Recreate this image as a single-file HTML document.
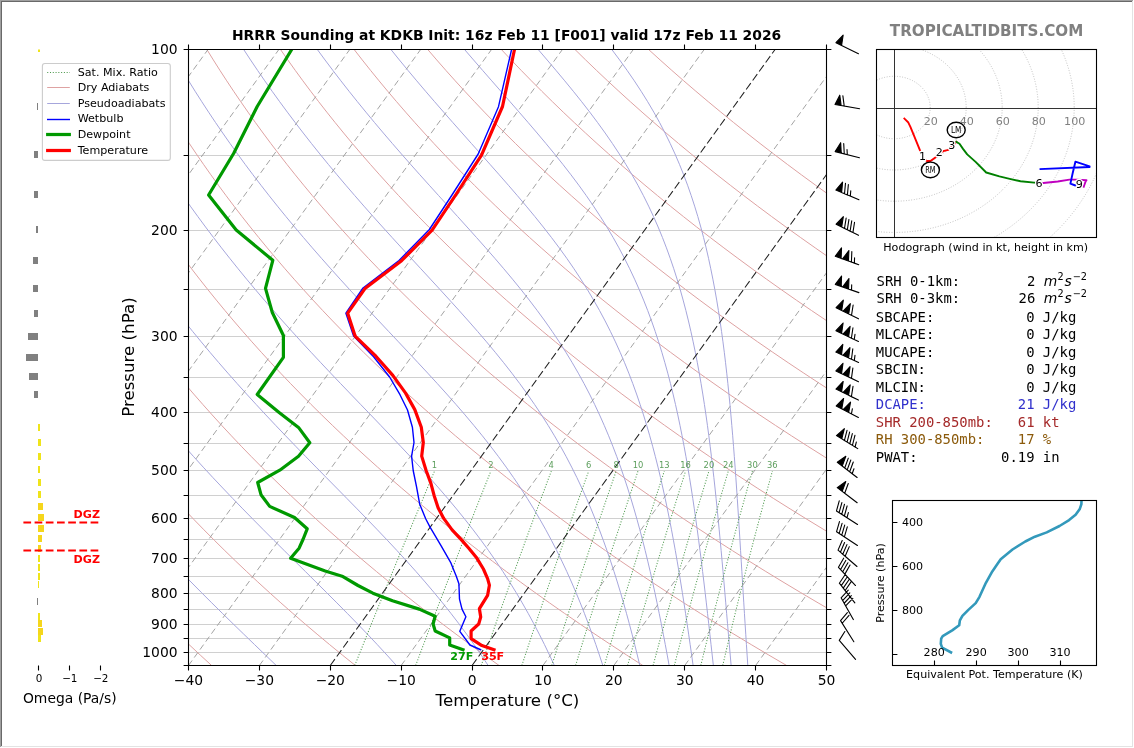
<!DOCTYPE html>
<html><head><meta charset="utf-8"><title>HRRR Sounding KDKB</title>
<style>html,body{margin:0;padding:0;background:#fff;width:1134px;height:748px;overflow:hidden}</style>
</head><body>
<svg width="1134" height="748" viewBox="0 0 1134 748" style="display:block">
<defs>
<clipPath id="cskew"><rect x="188.5" y="49.5" width="638" height="616"/></clipPath>
<clipPath id="chodo"><rect x="876.5" y="49.5" width="220" height="188"/></clipPath>
<clipPath id="cthe"><rect x="892.5" y="500.5" width="204" height="165"/></clipPath>
<clipPath id="comega"><rect x="0" y="49.5" width="130" height="616"/></clipPath>
</defs>
<rect x="0" y="0" width="1134" height="748" fill="#fff"/>
<g clip-path="url(#cskew)">
<line x1="188.5" y1="49.5" x2="826.5" y2="49.5" stroke="#d0d0d0" stroke-width="1"/>
<line x1="188.5" y1="155.5" x2="826.5" y2="155.5" stroke="#d0d0d0" stroke-width="1"/>
<line x1="188.5" y1="230.5" x2="826.5" y2="230.5" stroke="#d0d0d0" stroke-width="1"/>
<line x1="188.5" y1="289.5" x2="826.5" y2="289.5" stroke="#d0d0d0" stroke-width="1"/>
<line x1="188.5" y1="336.5" x2="826.5" y2="336.5" stroke="#d0d0d0" stroke-width="1"/>
<line x1="188.5" y1="377.5" x2="826.5" y2="377.5" stroke="#d0d0d0" stroke-width="1"/>
<line x1="188.5" y1="412.5" x2="826.5" y2="412.5" stroke="#d0d0d0" stroke-width="1"/>
<line x1="188.5" y1="443.5" x2="826.5" y2="443.5" stroke="#d0d0d0" stroke-width="1"/>
<line x1="188.5" y1="470.5" x2="826.5" y2="470.5" stroke="#d0d0d0" stroke-width="1"/>
<line x1="188.5" y1="495.5" x2="826.5" y2="495.5" stroke="#d0d0d0" stroke-width="1"/>
<line x1="188.5" y1="518.5" x2="826.5" y2="518.5" stroke="#d0d0d0" stroke-width="1"/>
<line x1="188.5" y1="539.5" x2="826.5" y2="539.5" stroke="#d0d0d0" stroke-width="1"/>
<line x1="188.5" y1="558.5" x2="826.5" y2="558.5" stroke="#d0d0d0" stroke-width="1"/>
<line x1="188.5" y1="576.5" x2="826.5" y2="576.5" stroke="#d0d0d0" stroke-width="1"/>
<line x1="188.5" y1="593.5" x2="826.5" y2="593.5" stroke="#d0d0d0" stroke-width="1"/>
<line x1="188.5" y1="609.5" x2="826.5" y2="609.5" stroke="#d0d0d0" stroke-width="1"/>
<line x1="188.5" y1="624.5" x2="826.5" y2="624.5" stroke="#d0d0d0" stroke-width="1"/>
<line x1="188.5" y1="638.5" x2="826.5" y2="638.5" stroke="#d0d0d0" stroke-width="1"/>
<line x1="188.5" y1="652.5" x2="826.5" y2="652.5" stroke="#d0d0d0" stroke-width="1"/>
<line x1="188.5" y1="665.5" x2="826.5" y2="665.5" stroke="#d0d0d0" stroke-width="1"/>
<path d="M211.61 665.5 L200.25 655.06 L189.1 644.62 L178.16 634.18 L167.43 623.74 L156.91 613.3 L146.59 602.86 L136.47 592.42 L126.55 581.97 L116.83 571.53 L107.3 561.09 L97.96 550.65 L88.82 540.21 L79.86 529.77 L71.09 519.33 L62.5 508.89 L54.1 498.45 L45.87 488.01 L37.83 477.57 L29.95 467.13 L22.26 456.69 L14.73 446.25 L7.37 435.81 L0.19 425.36 L-6.84 414.92 L-13.69 404.48 L-20.39 394.04 L-26.92 383.6 L-33.3 373.16 L-39.52 362.72 L-45.58 352.28 L-51.5 341.84 L-57.25 331.4 L-62.86 320.96 L-68.32 310.52 L-73.64 300.08 L-78.81 289.64 L-83.83 279.19 L-88.72 268.75 L-93.46 258.31 L-98.07 247.87 L-102.53 237.43 L-106.87 226.99 L-111.07 216.55 L-115.13 206.11 L-119.07 195.67 L-122.88 185.23 L-126.55 174.79 L-130.11 164.35 L-133.53 153.91 L-136.84 143.47 L-140.02 133.03 L-143.08 122.58 L-146.02 112.14 L-148.84 101.7 L-151.55 91.26 L-154.14 80.82 L-156.61 70.38 L-158.97 59.94 L-161.22 49.5 M355.37 665.5 L342.39 655.06 L329.63 644.62 L317.11 634.18 L304.81 623.74 L292.74 613.3 L280.89 602.86 L269.26 592.42 L257.84 581.97 L246.64 571.53 L235.64 561.09 L224.86 550.65 L214.28 540.21 L203.91 529.77 L193.74 519.33 L183.77 508.89 L174 498.45 L164.42 488.01 L155.04 477.57 L145.84 467.13 L136.84 456.69 L128.02 446.25 L119.39 435.81 L110.93 425.36 L102.66 414.92 L94.57 404.48 L86.65 394.04 L78.91 383.6 L71.34 373.16 L63.94 362.72 L56.71 352.28 L49.65 341.84 L42.75 331.4 L36.01 320.96 L29.44 310.52 L23.02 300.08 L16.76 289.64 L10.66 279.19 L4.71 268.75 L-1.09 258.31 L-6.74 247.87 L-12.24 237.43 L-17.59 226.99 L-22.79 216.55 L-27.86 206.11 L-32.78 195.67 L-37.56 185.23 L-42.2 174.79 L-46.7 164.35 L-51.07 153.91 L-55.3 143.47 L-59.4 133.03 L-63.37 122.58 L-67.21 112.14 L-70.92 101.7 L-74.51 91.26 L-77.97 80.82 L-81.3 70.38 L-84.51 59.94 L-87.6 49.5 M499.13 665.5 L484.53 655.06 L470.17 644.62 L456.06 634.18 L442.2 623.74 L428.58 613.3 L415.19 602.86 L402.04 592.42 L389.13 581.97 L376.44 571.53 L363.99 561.09 L351.76 550.65 L339.75 540.21 L327.96 529.77 L316.39 519.33 L305.04 508.89 L293.9 498.45 L282.97 488.01 L272.25 477.57 L261.73 467.13 L251.42 456.69 L241.31 446.25 L231.4 435.81 L221.68 425.36 L212.16 414.92 L202.84 404.48 L193.7 394.04 L184.75 383.6 L175.99 373.16 L167.41 362.72 L159.01 352.28 L150.79 341.84 L142.75 331.4 L134.89 320.96 L127.19 310.52 L119.68 300.08 L112.33 289.64 L105.14 279.19 L98.13 268.75 L91.28 258.31 L84.59 247.87 L78.06 237.43 L71.69 226.99 L65.48 216.55 L59.42 206.11 L53.51 195.67 L47.76 185.23 L42.16 174.79 L36.7 164.35 L31.4 153.91 L26.23 143.47 L21.21 133.03 L16.33 122.58 L11.6 112.14 L7 101.7 L2.53 91.26 L-1.79 80.82 L-5.99 70.38 L-10.05 59.94 L-13.98 49.5 M642.89 665.5 L626.66 655.06 L610.71 644.62 L595.01 634.18 L579.58 623.74 L564.41 613.3 L549.49 602.86 L534.83 592.42 L520.42 581.97 L506.25 571.53 L492.33 561.09 L478.66 550.65 L465.22 540.21 L452.01 529.77 L439.05 519.33 L426.31 508.89 L413.8 498.45 L401.52 488.01 L389.46 477.57 L377.62 467.13 L366 456.69 L354.6 446.25 L343.41 435.81 L332.43 425.36 L321.66 414.92 L311.1 404.48 L300.74 394.04 L290.59 383.6 L280.63 373.16 L270.87 362.72 L261.3 352.28 L251.93 341.84 L242.75 331.4 L233.76 320.96 L224.95 310.52 L216.33 300.08 L207.89 289.64 L199.63 279.19 L191.55 268.75 L183.65 258.31 L175.92 247.87 L168.36 237.43 L160.97 226.99 L153.75 216.55 L146.7 206.11 L139.81 195.67 L133.08 185.23 L126.52 174.79 L120.11 164.35 L113.86 153.91 L107.77 143.47 L101.83 133.03 L96.04 122.58 L90.4 112.14 L84.91 101.7 L79.57 91.26 L74.38 80.82 L69.32 70.38 L64.41 59.94 L59.64 49.5 M786.65 665.5 L768.8 655.06 L751.24 644.62 L733.96 634.18 L716.97 623.74 L700.24 613.3 L683.8 602.86 L667.62 592.42 L651.71 581.97 L636.06 571.53 L620.68 561.09 L605.55 550.65 L590.68 540.21 L576.07 529.77 L561.7 519.33 L547.58 508.89 L533.7 498.45 L520.07 488.01 L506.67 477.57 L493.51 467.13 L480.59 456.69 L467.89 446.25 L455.42 435.81 L443.18 425.36 L431.17 414.92 L419.37 404.48 L407.79 394.04 L396.42 383.6 L385.27 373.16 L374.33 362.72 L363.6 352.28 L353.08 341.84 L342.75 331.4 L332.63 320.96 L322.71 310.52 L312.99 300.08 L303.46 289.64 L294.12 279.19 L284.97 268.75 L276.02 258.31 L267.24 247.87 L258.65 237.43 L250.25 226.99 L242.02 216.55 L233.97 206.11 L226.1 195.67 L218.4 185.23 L210.87 174.79 L203.51 164.35 L196.33 153.91 L189.3 143.47 L182.44 133.03 L175.75 122.58 L169.21 112.14 L162.83 101.7 L156.61 91.26 L150.55 80.82 L144.63 70.38 L138.87 59.94 L133.26 49.5 M930.41 665.5 L910.94 655.06 L891.78 644.62 L872.91 634.18 L854.35 623.74 L836.08 613.3 L818.1 602.86 L800.41 592.42 L783 581.97 L765.87 571.53 L749.02 561.09 L732.45 550.65 L716.15 540.21 L700.12 529.77 L684.35 519.33 L668.85 508.89 L653.6 498.45 L638.62 488.01 L623.88 477.57 L609.4 467.13 L595.17 456.69 L581.18 446.25 L567.44 435.81 L553.93 425.36 L540.67 414.92 L527.63 404.48 L514.83 394.04 L502.26 383.6 L489.92 373.16 L477.8 362.72 L465.9 352.28 L454.22 341.84 L442.76 331.4 L431.51 320.96 L420.47 310.52 L409.64 300.08 L399.02 289.64 L388.61 279.19 L378.4 268.75 L368.39 258.31 L358.57 247.87 L348.95 237.43 L339.53 226.99 L330.29 216.55 L321.25 206.11 L312.39 195.67 L303.72 185.23 L295.23 174.79 L286.92 164.35 L278.79 153.91 L270.84 143.47 L263.06 133.03 L255.45 122.58 L248.02 112.14 L240.75 101.7 L233.65 91.26 L226.72 80.82 L219.95 70.38 L213.34 59.94 L206.89 49.5 M1074.17 665.5 L1053.08 655.06 L1032.31 644.62 L1011.86 634.18 L991.73 623.74 L971.91 613.3 L952.4 602.86 L933.19 592.42 L914.29 581.97 L895.68 571.53 L877.37 561.09 L859.35 550.65 L841.62 540.21 L824.17 529.77 L807 519.33 L790.12 508.89 L773.51 498.45 L757.17 488.01 L741.1 477.57 L725.29 467.13 L709.75 456.69 L694.47 446.25 L679.45 435.81 L664.68 425.36 L650.17 414.92 L635.9 404.48 L621.88 394.04 L608.1 383.6 L594.56 373.16 L581.26 362.72 L568.19 352.28 L555.36 341.84 L542.76 331.4 L530.38 320.96 L518.23 310.52 L506.3 300.08 L494.59 289.64 L483.1 279.19 L471.82 268.75 L460.75 258.31 L449.9 247.87 L439.25 237.43 L428.81 226.99 L418.57 216.55 L408.53 206.11 L398.68 195.67 L389.04 185.23 L379.59 174.79 L370.33 164.35 L361.25 153.91 L352.37 143.47 L343.67 133.03 L335.16 122.58 L326.82 112.14 L318.67 101.7 L310.69 91.26 L302.89 80.82 L295.26 70.38 L287.8 59.94 L280.51 49.5 M1217.93 665.5 L1195.22 655.06 L1172.85 644.62 L1150.82 634.18 L1129.12 623.74 L1107.75 613.3 L1086.7 602.86 L1065.98 592.42 L1045.58 581.97 L1025.49 571.53 L1005.71 561.09 L986.25 550.65 L967.08 540.21 L948.22 529.77 L929.66 519.33 L911.39 508.89 L893.41 498.45 L875.72 488.01 L858.31 477.57 L841.18 467.13 L824.34 456.69 L807.76 446.25 L791.46 435.81 L775.43 425.36 L759.67 414.92 L744.16 404.48 L728.92 394.04 L713.94 383.6 L699.2 373.16 L684.72 362.72 L670.49 352.28 L656.5 341.84 L642.76 331.4 L629.26 320.96 L615.99 310.52 L602.96 300.08 L590.16 289.64 L577.59 279.19 L565.24 268.75 L553.12 258.31 L541.23 247.87 L529.55 237.43 L518.09 226.99 L506.84 216.55 L495.8 206.11 L484.98 195.67 L474.36 185.23 L463.94 174.79 L453.73 164.35 L443.72 153.91 L433.91 143.47 L424.29 133.03 L414.86 122.58 L405.63 112.14 L396.59 101.7 L387.73 91.26 L379.06 80.82 L370.57 70.38 L362.26 59.94 L354.13 49.5 M1361.69 665.5 L1337.36 655.06 L1313.38 644.62 L1289.77 634.18 L1266.5 623.74 L1243.58 613.3 L1221 602.86 L1198.77 592.42 L1176.87 581.97 L1155.3 571.53 L1134.06 561.09 L1113.14 550.65 L1092.55 540.21 L1072.27 529.77 L1052.31 519.33 L1032.65 508.89 L1013.31 498.45 L994.26 488.01 L975.52 477.57 L957.07 467.13 L938.92 456.69 L921.05 446.25 L903.48 435.81 L886.18 425.36 L869.17 414.92 L852.43 404.48 L835.97 394.04 L819.77 383.6 L803.85 373.16 L788.19 362.72 L772.79 352.28 L757.65 341.84 L742.76 331.4 L728.13 320.96 L713.75 310.52 L699.61 300.08 L685.72 289.64 L672.08 279.19 L658.67 268.75 L645.49 258.31 L632.55 247.87 L619.84 237.43 L607.36 226.99 L595.11 216.55 L583.08 206.11 L571.27 195.67 L559.68 185.23 L548.3 174.79 L537.14 164.35 L526.18 153.91 L515.44 143.47 L504.9 133.03 L494.57 122.58 L484.44 112.14 L474.5 101.7 L464.77 91.26 L455.23 80.82 L445.88 70.38 L436.72 59.94 L427.75 49.5 M1505.45 665.5 L1479.5 655.06 L1453.92 644.62 L1428.72 634.18 L1403.88 623.74 L1379.41 613.3 L1355.31 602.86 L1331.56 592.42 L1308.16 581.97 L1285.11 571.53 L1262.4 561.09 L1240.04 550.65 L1218.02 540.21 L1196.32 529.77 L1174.96 519.33 L1153.92 508.89 L1133.21 498.45 L1112.81 488.01 L1092.73 477.57 L1072.96 467.13 L1053.5 456.69 L1034.34 446.25 L1015.49 435.81 L996.93 425.36 L978.67 414.92 L960.69 404.48 L943.01 394.04 L925.61 383.6 L908.49 373.16 L891.65 362.72 L875.08 352.28 L858.79 341.84 L842.76 331.4 L827 320.96 L811.51 310.52 L796.27 300.08 L781.29 289.64 L766.56 279.19 L752.09 268.75 L737.86 258.31 L723.88 247.87 L710.14 237.43 L696.64 226.99 L683.38 216.55 L670.35 206.11 L657.56 195.67 L644.99 185.23 L632.66 174.79 L620.54 164.35 L608.65 153.91 L596.97 143.47 L585.52 133.03 L574.27 122.58 L563.24 112.14 L552.42 101.7 L541.81 91.26 L531.4 80.82 L521.19 70.38 L511.18 59.94 L501.37 49.5 M1649.21 665.5 L1621.64 655.06 L1594.46 644.62 L1567.67 634.18 L1541.27 623.74 L1515.25 613.3 L1489.61 602.86 L1464.34 592.42 L1439.45 581.97 L1414.92 571.53 L1390.75 561.09 L1366.94 550.65 L1343.48 540.21 L1320.37 529.77 L1297.61 519.33 L1275.19 508.89 L1253.11 498.45 L1231.36 488.01 L1209.94 477.57 L1188.85 467.13 L1168.08 456.69 L1147.64 446.25 L1127.5 435.81 L1107.68 425.36 L1088.17 414.92 L1068.96 404.48 L1050.05 394.04 L1031.45 383.6 L1013.13 373.16 L995.11 362.72 L977.38 352.28 L959.93 341.84 L942.77 331.4 L925.88 320.96 L909.27 310.52 L892.93 300.08 L876.86 289.64 L861.05 279.19 L845.51 268.75 L830.23 258.31 L815.21 247.87 L800.44 237.43 L785.92 226.99 L771.65 216.55 L757.63 206.11 L743.85 195.67 L730.31 185.23 L717.01 174.79 L703.95 164.35 L691.11 153.91 L678.51 143.47 L666.13 133.03 L653.98 122.58 L642.05 112.14 L630.34 101.7 L618.85 91.26 L607.57 80.82 L596.5 70.38 L585.65 59.94 L575 49.5 M1792.97 665.5 L1763.77 655.06 L1734.99 644.62 L1706.62 634.18 L1678.65 623.74 L1651.08 613.3 L1623.91 602.86 L1597.13 592.42 L1570.74 581.97 L1544.73 571.53 L1519.09 561.09 L1493.84 550.65 L1468.95 540.21 L1444.43 529.77 L1420.26 519.33 L1396.46 508.89 L1373.01 498.45 L1349.91 488.01 L1327.16 477.57 L1304.74 467.13 L1282.67 456.69 L1260.93 446.25 L1239.51 435.81 L1218.43 425.36 L1197.67 414.92 L1177.23 404.48 L1157.1 394.04 L1137.28 383.6 L1117.78 373.16 L1098.58 362.72 L1079.68 352.28 L1061.07 341.84 L1042.77 331.4 L1024.75 320.96 L1007.03 310.52 L989.58 300.08 L972.42 289.64 L955.54 279.19 L938.93 268.75 L922.6 258.31 L906.54 247.87 L890.74 237.43 L875.2 226.99 L859.93 216.55 L844.91 206.11 L830.14 195.67 L815.63 185.23 L801.37 174.79 L787.35 164.35 L773.58 153.91 L760.04 143.47 L746.75 133.03 L733.69 122.58 L720.86 112.14 L708.26 101.7 L695.89 91.26 L683.74 80.82 L671.81 70.38 L660.11 59.94 L648.62 49.5" fill="none" stroke="#dea2a2" stroke-width="1"/>
<path d="M-124.41 49.5 L-121.74 59.94 L-118.96 70.38 L-116.05 80.82 L-113.03 91.26 L-109.88 101.7 L-106.61 112.14 L-103.22 122.58 L-99.71 133.03 L-96.07 143.47 L-92.3 153.91 L-88.4 164.35 L-84.38 174.79 L-80.22 185.23 L-75.92 195.67 L-71.5 206.11 L-66.93 216.55 L-62.23 226.99 L-57.39 237.43 L-52.4 247.87 L-47.28 258.31 L-42.01 268.75 L-36.59 279.19 L-31.02 289.64 L-25.31 300.08 L-19.44 310.52 L-13.43 320.96 L-7.25 331.4 L-0.92 341.84 L5.56 352.28 L12.21 362.72 L19.02 373.16 L25.99 383.6 L33.13 394.04 L40.43 404.48 L47.9 414.92 L55.54 425.36 L63.36 435.81 L71.34 446.25 L79.5 456.69 L87.84 467.13 L96.35 477.57 L105.04 488.01 L113.9 498.45 L122.94 508.89 L132.16 519.33 L141.55 529.77 L151.11 540.21 L160.84 550.65 L170.73 561.09 L180.78 571.53 L190.97 581.97 L201.31 592.42 L211.77 602.86 L222.35 613.3 L233.02 623.74 L243.77 634.18 L254.58 644.62 L265.42 655.06 L276.27 665.5 M-50.79 49.5 L-47.28 59.94 L-43.64 70.38 L-39.88 80.82 L-35.99 91.26 L-31.96 101.7 L-27.81 112.14 L-23.52 122.58 L-19.09 133.03 L-14.53 143.47 L-9.84 153.91 L-5 164.35 L-0.02 174.79 L5.1 185.23 L10.37 195.67 L15.78 206.11 L21.34 216.55 L27.05 226.99 L32.91 237.43 L38.92 247.87 L45.09 258.31 L51.42 268.75 L57.9 279.19 L64.54 289.64 L71.34 300.08 L78.31 310.52 L85.44 320.96 L92.74 331.4 L100.2 341.84 L107.84 352.28 L115.64 362.72 L123.62 373.16 L131.77 383.6 L140.1 394.04 L148.6 404.48 L157.27 414.92 L166.12 425.36 L175.14 435.81 L184.33 446.25 L193.69 456.69 L203.21 467.13 L212.89 477.57 L222.73 488.01 L232.71 498.45 L242.82 508.89 L253.05 519.33 L263.39 529.77 L273.81 540.21 L284.3 550.65 L294.83 561.09 L305.38 571.53 L315.92 581.97 L326.42 592.42 L336.86 602.86 L347.19 613.3 L357.39 623.74 L367.44 634.18 L377.29 644.62 L386.94 655.06 L396.36 665.5 M22.83 49.5 L27.18 59.94 L31.67 70.38 L36.29 80.82 L41.05 91.26 L45.95 101.7 L51 112.14 L56.19 122.58 L61.52 133.03 L67 143.47 L72.63 153.91 L78.41 164.35 L84.34 174.79 L90.42 185.23 L96.66 195.67 L103.06 206.11 L109.61 216.55 L116.33 226.99 L123.2 237.43 L130.24 247.87 L137.45 258.31 L144.82 268.75 L152.36 279.19 L160.07 289.64 L167.96 300.08 L176.01 310.52 L184.23 320.96 L192.63 331.4 L201.2 341.84 L209.94 352.28 L218.85 362.72 L227.93 373.16 L237.17 383.6 L246.58 394.04 L256.13 404.48 L265.83 414.92 L275.66 425.36 L285.62 435.81 L295.68 446.25 L305.83 456.69 L316.05 467.13 L326.32 477.57 L336.6 488.01 L346.88 498.45 L357.12 508.89 L367.29 519.33 L377.36 529.77 L387.29 540.21 L397.06 550.65 L406.63 561.09 L415.99 571.53 L425.11 581.97 L433.97 592.42 L442.56 602.86 L450.87 613.3 L458.9 623.74 L466.64 634.18 L474.09 644.62 L481.27 655.06 L488.18 665.5 M96.45 49.5 L101.64 59.94 L106.98 70.38 L112.46 80.82 L118.09 91.26 L123.87 101.7 L129.81 112.14 L135.89 122.58 L142.13 133.03 L148.53 143.47 L155.09 153.91 L161.81 164.35 L168.69 174.79 L175.73 185.23 L182.94 195.67 L190.31 206.11 L197.85 216.55 L205.56 226.99 L213.45 237.43 L221.5 247.87 L229.72 258.31 L238.11 268.75 L246.67 279.19 L255.4 289.64 L264.3 300.08 L273.35 310.52 L282.57 320.96 L291.93 331.4 L301.44 341.84 L311.07 352.28 L320.83 362.72 L330.68 373.16 L340.62 383.6 L350.63 394.04 L360.67 404.48 L370.72 414.92 L380.75 425.36 L390.73 435.81 L400.62 446.25 L410.4 456.69 L420.03 467.13 L429.47 477.57 L438.71 488.01 L447.71 498.45 L456.45 508.89 L464.92 519.33 L473.1 529.77 L481 540.21 L488.59 550.65 L495.89 561.09 L502.89 571.53 L509.61 581.97 L516.06 592.42 L522.23 602.86 L528.15 613.3 L533.82 623.74 L539.27 634.18 L544.49 644.62 L549.51 655.06 L554.33 665.5 M170.07 49.5 L176.1 59.94 L182.29 70.38 L188.63 80.82 L195.13 91.26 L201.79 101.7 L208.6 112.14 L215.59 122.58 L222.73 133.03 L230.04 143.47 L237.52 153.91 L245.17 164.35 L252.98 174.79 L260.97 185.23 L269.12 195.67 L277.44 206.11 L285.93 216.55 L294.58 226.99 L303.4 237.43 L312.37 247.87 L321.49 258.31 L330.76 268.75 L340.16 279.19 L349.68 289.64 L359.3 300.08 L369.02 310.52 L378.8 320.96 L388.62 331.4 L398.46 341.84 L408.29 352.28 L418.06 362.72 L427.75 373.16 L437.33 383.6 L446.76 394.04 L456 404.48 L465.03 414.92 L473.82 425.36 L482.35 435.81 L490.59 446.25 L498.54 456.69 L506.19 467.13 L513.53 477.57 L520.57 488.01 L527.3 498.45 L533.74 508.89 L539.89 519.33 L545.77 529.77 L551.38 540.21 L556.74 550.65 L561.87 561.09 L566.77 571.53 L571.45 581.97 L575.94 592.42 L580.25 602.86 L584.38 613.3 L588.35 623.74 L592.17 634.18 L595.85 644.62 L599.4 655.06 L602.84 665.5 M243.7 49.5 L250.56 59.94 L257.59 70.38 L264.79 80.82 L272.14 91.26 L279.67 101.7 L287.36 112.14 L295.22 122.58 L303.25 133.03 L311.44 143.47 L319.8 153.91 L328.32 164.35 L337.01 174.79 L345.84 185.23 L354.83 195.67 L363.95 206.11 L373.2 216.55 L382.57 226.99 L392.04 237.43 L401.59 247.87 L411.2 258.31 L420.84 268.75 L430.48 279.19 L440.1 289.64 L449.65 300.08 L459.1 310.52 L468.42 320.96 L477.57 331.4 L486.52 341.84 L495.23 352.28 L503.69 362.72 L511.86 373.16 L519.74 383.6 L527.31 394.04 L534.57 404.48 L541.51 414.92 L548.14 425.36 L554.46 435.81 L560.49 446.25 L566.22 456.69 L571.68 467.13 L576.88 477.57 L581.82 488.01 L586.53 498.45 L591.02 508.89 L595.29 519.33 L599.38 529.77 L603.28 540.21 L607.01 550.65 L610.58 561.09 L614.01 571.53 L617.3 581.97 L620.47 592.42 L623.52 602.86 L626.46 613.3 L629.3 623.74 L632.05 634.18 L634.72 644.62 L637.31 655.06 L639.83 665.5 M317.32 49.5 L325.01 59.94 L332.86 70.38 L340.88 80.82 L349.06 91.26 L357.41 101.7 L365.91 112.14 L374.57 122.58 L383.38 133.03 L392.33 143.47 L401.4 153.91 L410.59 164.35 L419.89 174.79 L429.26 185.23 L438.69 195.67 L448.16 206.11 L457.62 216.55 L467.06 226.99 L476.43 237.43 L485.7 247.87 L494.83 258.31 L503.78 268.75 L512.53 279.19 L521.04 289.64 L529.28 300.08 L537.23 310.52 L544.87 320.96 L552.2 331.4 L559.21 341.84 L565.89 352.28 L572.26 362.72 L578.31 373.16 L584.05 383.6 L589.5 394.04 L594.67 404.48 L599.57 414.92 L604.22 425.36 L608.63 435.81 L612.82 446.25 L616.8 456.69 L620.58 467.13 L624.18 477.57 L627.6 488.01 L630.87 498.45 L633.99 508.89 L636.98 519.33 L639.83 529.77 L642.58 540.21 L645.21 550.65 L647.74 561.09 L650.19 571.53 L652.55 581.97 L654.83 592.42 L657.04 602.86 L659.18 613.3 L661.27 623.74 L663.31 634.18 L665.29 644.62 L667.24 655.06 L669.14 665.5 M390.94 49.5 L399.39 59.94 L407.98 70.38 L416.72 80.82 L425.59 91.26 L434.58 101.7 L443.68 112.14 L452.87 122.58 L462.12 133.03 L471.42 143.47 L480.72 153.91 L490.01 164.35 L499.24 174.79 L508.38 185.23 L517.39 195.67 L526.23 206.11 L534.86 216.55 L543.26 226.99 L551.4 237.43 L559.24 247.87 L566.77 258.31 L573.98 268.75 L580.87 279.19 L587.42 289.64 L593.64 300.08 L599.54 310.52 L605.13 320.96 L610.41 331.4 L615.41 341.84 L620.13 352.28 L624.59 362.72 L628.8 373.16 L632.79 383.6 L636.56 394.04 L640.12 404.48 L643.5 414.92 L646.7 425.36 L649.74 435.81 L652.63 446.25 L655.38 456.69 L658 467.13 L660.5 477.57 L662.89 488.01 L665.17 498.45 L667.37 508.89 L669.47 519.33 L671.5 529.77 L673.45 540.21 L675.34 550.65 L677.16 561.09 L678.93 571.53 L680.65 581.97 L682.32 592.42 L683.95 602.86 L685.55 613.3 L687.11 623.74 L688.65 634.18 L690.16 644.62 L691.65 655.06 L693.12 665.5 M464.56 49.5 L473.55 59.94 L482.62 70.38 L491.74 80.82 L500.89 91.26 L510.04 101.7 L519.15 112.14 L528.19 122.58 L537.12 133.03 L545.9 143.47 L554.5 153.91 L562.86 164.35 L570.97 174.79 L578.8 185.23 L586.32 195.67 L593.51 206.11 L600.37 216.55 L606.9 226.99 L613.09 237.43 L618.94 247.87 L624.47 258.31 L629.69 268.75 L634.61 279.19 L639.24 289.64 L643.59 300.08 L647.7 310.52 L651.56 320.96 L655.19 331.4 L658.62 341.84 L661.85 352.28 L664.89 362.72 L667.77 373.16 L670.48 383.6 L673.05 394.04 L675.49 404.48 L677.8 414.92 L679.99 425.36 L682.08 435.81 L684.07 446.25 L685.96 456.69 L687.78 467.13 L689.51 477.57 L691.18 488.01 L692.78 498.45 L694.32 508.89 L695.81 519.33 L697.25 529.77 L698.65 540.21 L700 550.65 L701.32 561.09 L702.61 571.53 L703.88 581.97 L705.11 592.42 L706.33 602.86 L707.53 613.3 L708.71 623.74 L709.88 634.18 L711.04 644.62 L712.2 655.06 L713.35 665.5 M538.19 49.5 L547.13 59.94 L555.99 70.38 L564.73 80.82 L573.29 91.26 L581.66 101.7 L589.78 112.14 L597.62 122.58 L605.17 133.03 L612.4 143.47 L619.29 153.91 L625.84 164.35 L632.04 174.79 L637.91 185.23 L643.43 195.67 L648.64 206.11 L653.52 216.55 L658.11 226.99 L662.41 237.43 L666.45 247.87 L670.23 258.31 L673.77 268.75 L677.1 279.19 L680.21 289.64 L683.14 300.08 L685.88 310.52 L688.46 320.96 L690.89 331.4 L693.17 341.84 L695.32 352.28 L697.35 362.72 L699.26 373.16 L701.07 383.6 L702.79 394.04 L704.41 404.48 L705.96 414.92 L707.43 425.36 L708.83 435.81 L710.17 446.25 L711.45 456.69 L712.68 467.13 L713.86 477.57 L715 488.01 L716.1 498.45 L717.16 508.89 L718.2 519.33 L719.2 529.77 L720.18 540.21 L721.15 550.65 L722.09 561.09 L723.02 571.53 L723.94 581.97 L724.84 592.42 L725.74 602.86 L726.64 613.3 L727.53 623.74 L728.42 634.18 L729.32 644.62 L730.22 655.06 L731.12 665.5 M611.81 49.5 L619.61 59.94 L627.12 70.38 L634.3 80.82 L641.15 91.26 L647.66 101.7 L653.81 112.14 L659.61 122.58 L665.07 133.03 L670.19 143.47 L674.99 153.91 L679.47 164.35 L683.67 174.79 L687.58 185.23 L691.23 195.67 L694.64 206.11 L697.82 216.55 L700.78 226.99 L703.55 237.43 L706.13 247.87 L708.54 258.31 L710.78 268.75 L712.88 279.19 L714.85 289.64 L716.69 300.08 L718.41 310.52 L720.02 320.96 L721.54 331.4 L722.96 341.84 L724.3 352.28 L725.56 362.72 L726.74 373.16 L727.87 383.6 L728.93 394.04 L729.94 404.48 L730.9 414.92 L731.81 425.36 L732.69 435.81 L733.52 446.25 L734.33 456.69 L735.1 467.13 L735.85 477.57 L736.57 488.01 L737.27 498.45 L737.96 508.89 L738.63 519.33 L739.29 529.77 L739.95 540.21 L740.59 550.65 L741.23 561.09 L741.87 571.53 L742.5 581.97 L743.14 592.42 L743.79 602.86 L744.43 613.3 L745.09 623.74 L745.75 634.18 L746.43 644.62 L747.11 655.06 L747.81 665.5" fill="none" stroke="#a6a6dc" stroke-width="1"/>
<path d="M354.76 665.5 L358.84 655.27 L362.94 645.04 L367.04 634.81 L371.16 624.58 L375.3 614.35 L379.44 604.12 L383.6 593.89 L387.78 583.66 L391.96 573.43 L396.16 563.2 L400.37 552.97 L404.6 542.74 L408.84 532.51 L413.09 522.28 L417.35 512.05 L421.62 501.82 L425.91 491.59 L430.21 481.36 L434.52 471.13 M415.67 665.5 L419.5 655.27 L423.34 645.04 L427.19 634.81 L431.06 624.58 L434.95 614.35 L438.85 604.12 L442.76 593.89 L446.69 583.66 L450.63 573.43 L454.59 563.2 L458.56 552.97 L462.55 542.74 L466.55 532.51 L470.57 522.28 L474.6 512.05 L478.64 501.82 L482.69 491.59 L486.76 481.36 L490.85 471.13 M481.22 665.5 L484.76 655.27 L488.31 645.04 L491.89 634.81 L495.48 624.58 L499.09 614.35 L502.71 604.12 L506.35 593.89 L510.01 583.66 L513.68 573.43 L517.37 563.2 L521.08 552.97 L524.8 542.74 L528.53 532.51 L532.29 522.28 L536.05 512.05 L539.84 501.82 L543.64 491.59 L547.45 481.36 L551.28 471.13 M521.86 665.5 L525.22 655.27 L528.6 645.04 L531.99 634.81 L535.4 624.58 L538.83 614.35 L542.28 604.12 L545.75 593.89 L549.23 583.66 L552.73 573.43 L556.25 563.2 L559.78 552.97 L563.34 542.74 L566.9 532.51 L570.49 522.28 L574.09 512.05 L577.71 501.82 L581.35 491.59 L585 481.36 L588.67 471.13 M551.78 665.5 L555 655.27 L558.24 645.04 L561.5 634.81 L564.78 624.58 L568.07 614.35 L571.39 604.12 L574.72 593.89 L578.08 583.66 L581.45 573.43 L584.84 563.2 L588.24 552.97 L591.67 542.74 L595.11 532.51 L598.57 522.28 L602.05 512.05 L605.55 501.82 L609.06 491.59 L612.59 481.36 L616.14 471.13 M575.61 665.5 L578.72 655.27 L581.85 645.04 L585 634.81 L588.17 624.58 L591.36 614.35 L594.57 604.12 L597.8 593.89 L601.04 583.66 L604.31 573.43 L607.6 563.2 L610.9 552.97 L614.22 542.74 L617.56 532.51 L620.92 522.28 L624.3 512.05 L627.7 501.82 L631.11 491.59 L634.54 481.36 L637.99 471.13 M604.33 665.5 L607.3 655.27 L610.3 645.04 L613.32 634.81 L616.36 624.58 L619.41 614.35 L622.49 604.12 L625.59 593.89 L628.71 583.66 L631.85 573.43 L635.01 563.2 L638.19 552.97 L641.38 542.74 L644.6 532.51 L647.84 522.28 L651.09 512.05 L654.37 501.82 L657.66 491.59 L660.97 481.36 L664.3 471.13 M627.59 665.5 L630.46 655.27 L633.34 645.04 L636.25 634.81 L639.18 624.58 L642.13 614.35 L645.1 604.12 L648.1 593.89 L651.11 583.66 L654.14 573.43 L657.2 563.2 L660.27 552.97 L663.37 542.74 L666.48 532.51 L669.62 522.28 L672.77 512.05 L675.95 501.82 L679.14 491.59 L682.35 481.36 L685.58 471.13 M653.11 665.5 L655.86 655.27 L658.62 645.04 L661.41 634.81 L664.21 624.58 L667.04 614.35 L669.9 604.12 L672.77 593.89 L675.67 583.66 L678.58 573.43 L681.52 563.2 L684.48 552.97 L687.46 542.74 L690.47 532.51 L693.49 522.28 L696.53 512.05 L699.59 501.82 L702.68 491.59 L705.78 481.36 L708.91 471.13 M674.35 665.5 L676.99 655.27 L679.65 645.04 L682.33 634.81 L685.04 624.58 L687.77 614.35 L690.52 604.12 L693.3 593.89 L696.09 583.66 L698.91 573.43 L701.75 563.2 L704.62 552.97 L707.5 542.74 L710.41 532.51 L713.34 522.28 L716.28 512.05 L719.26 501.82 L722.25 491.59 L725.26 481.36 L728.29 471.13 M700.79 665.5 L703.29 655.27 L705.82 645.04 L708.38 634.81 L710.96 624.58 L713.56 614.35 L716.19 604.12 L718.84 593.89 L721.51 583.66 L724.21 573.43 L726.92 563.2 L729.67 552.97 L732.43 542.74 L735.22 532.51 L738.02 522.28 L740.86 512.05 L743.71 501.82 L746.58 491.59 L749.48 481.36 L752.4 471.13 M722.73 665.5 L725.12 655.27 L727.54 645.04 L729.99 634.81 L732.46 624.58 L734.96 614.35 L737.48 604.12 L740.02 593.89 L742.59 583.66 L745.18 573.43 L747.8 563.2 L750.44 552.97 L753.1 542.74 L755.79 532.51 L758.5 522.28 L761.23 512.05 L763.98 501.82 L766.76 491.59 L769.56 481.36 L772.38 471.13" fill="none" stroke="#4f9a4f" stroke-width="1.05" stroke-dasharray="1.05 1.73"/>
<path d="M-662.17 665.5 L-217.37 49.5 M-591.28 665.5 L-146.48 49.5 M-520.39 665.5 L-75.59 49.5 M-449.5 665.5 L-4.7 49.5 M-378.61 665.5 L66.19 49.5 M-307.72 665.5 L137.08 49.5 M-236.83 665.5 L207.97 49.5 M-165.94 665.5 L278.86 49.5 M-95.06 665.5 L349.74 49.5 M-24.17 665.5 L420.63 49.5 M46.72 665.5 L491.52 49.5 M117.61 665.5 L562.41 49.5 M188.5 665.5 L633.3 49.5 M259.39 665.5 L704.19 49.5 M401.17 665.5 L845.97 49.5 M542.94 665.5 L987.74 49.5 M613.83 665.5 L1058.63 49.5 M684.72 665.5 L1129.52 49.5 M755.61 665.5 L1200.41 49.5 M826.5 665.5 L1271.3 49.5" fill="none" stroke="#999999" stroke-width="0.9" stroke-dasharray="6.2 3.6"/>
<path d="M330.28 665.5 L775.08 49.5 M472.06 665.5 L916.86 49.5" fill="none" stroke="#222" stroke-width="1.05" stroke-dasharray="7.9 3.2"/>
</g>
<text x="434.52" y="468.33" style="font-family:'DejaVu Sans',sans-serif;font-size:8.4px" fill="#5c9e5c" text-anchor="middle">1</text>
<text x="490.85" y="468.33" style="font-family:'DejaVu Sans',sans-serif;font-size:8.4px" fill="#5c9e5c" text-anchor="middle">2</text>
<text x="551.28" y="468.33" style="font-family:'DejaVu Sans',sans-serif;font-size:8.4px" fill="#5c9e5c" text-anchor="middle">4</text>
<text x="588.67" y="468.33" style="font-family:'DejaVu Sans',sans-serif;font-size:8.4px" fill="#5c9e5c" text-anchor="middle">6</text>
<text x="616.14" y="468.33" style="font-family:'DejaVu Sans',sans-serif;font-size:8.4px" fill="#5c9e5c" text-anchor="middle">8</text>
<text x="637.99" y="468.33" style="font-family:'DejaVu Sans',sans-serif;font-size:8.4px" fill="#5c9e5c" text-anchor="middle">10</text>
<text x="664.3" y="468.33" style="font-family:'DejaVu Sans',sans-serif;font-size:8.4px" fill="#5c9e5c" text-anchor="middle">13</text>
<text x="685.58" y="468.33" style="font-family:'DejaVu Sans',sans-serif;font-size:8.4px" fill="#5c9e5c" text-anchor="middle">16</text>
<text x="708.91" y="468.33" style="font-family:'DejaVu Sans',sans-serif;font-size:8.4px" fill="#5c9e5c" text-anchor="middle">20</text>
<text x="728.29" y="468.33" style="font-family:'DejaVu Sans',sans-serif;font-size:8.4px" fill="#5c9e5c" text-anchor="middle">24</text>
<text x="752.4" y="468.33" style="font-family:'DejaVu Sans',sans-serif;font-size:8.4px" fill="#5c9e5c" text-anchor="middle">30</text>
<text x="772.38" y="468.33" style="font-family:'DejaVu Sans',sans-serif;font-size:8.4px" fill="#5c9e5c" text-anchor="middle">36</text>
<g clip-path="url(#cskew)">
<path d="M511.6 49.5 L498.5 106.7 L478.2 154 L452 195 L429.4 229.5 L399 260.5 L363 288 L345.9 313.2 L353.6 336.1 L373.6 356.8 L389.6 377 L400 394.7 L407.5 410 L412.4 427.3 L414 442.5 L411.6 456.1 L413.2 470.5 L416.5 486.6 L419.7 504.2 L425.8 519 L429.9 526.8 L441.3 546.1 L450.9 562.9 L456.3 576.2 L458.9 583.7 L459.5 599.2 L462 609.1 L465.9 616.8 L459.8 631.3 L469.9 645 L481.3 650" fill="none" stroke="#0000ff" stroke-width="1.4" stroke-linejoin="round"/>
<path d="M291.7 49.5 L257.2 106.5 L233.6 153.5 L208.6 195 L236.2 230 L272.8 260.3 L265.5 288.4 L272.3 312.5 L283.4 335.5 L283.4 357.3 L257.2 394.5 L279.1 412.5 L298.5 427.4 L309.8 442.8 L298.5 456.2 L279.8 470.2 L257.7 482.5 L261 494.7 L269.7 506.4 L294.5 517.5 L307.2 528.8 L303.2 539 L299.1 548.2 L290.6 558.2 L325.2 571 L342.1 576.2 L358 585.5 L372.9 593.2 L392.5 600.8 L419.2 609.1 L435.2 616.2 L433.1 624 L435.2 631 L449.7 637.9 L449.7 644.9 L463 649.7" fill="none" stroke="#009900" stroke-width="3.2" stroke-linejoin="round" stroke-linecap="square"/>
<path d="M514.5 49.5 L502.5 106.5 L481.5 155.1 L455.3 195.5 L432.1 230.2 L401.6 260.7 L365.3 288.2 L347.7 313.2 L355.1 336.1 L375.9 356.2 L392.8 375.4 L405.6 393.1 L414.8 409.6 L421.3 427.3 L423.3 442.5 L421.7 456.1 L426.1 470.5 L430.9 483.4 L434.1 495.4 L438.1 507.7 L443.7 518.4 L452.1 529.9 L461.7 540.1 L469 548.5 L476.8 558.1 L483.4 569 L487.6 578.6 L489.4 585.2 L487.6 595.4 L479.4 608.7 L480.7 617 L478.7 624 L471.1 631 L471.1 638.6 L481.9 645.6 L494 649.8" fill="none" stroke="#ff0000" stroke-width="3.2" stroke-linejoin="round" stroke-linecap="square"/>
</g>
<text x="461.8" y="660.2" style="font-family:'DejaVu Sans',sans-serif;font-size:11.11px;font-weight:bold" fill="#009900" text-anchor="middle">27F</text>
<text x="492.7" y="660.2" style="font-family:'DejaVu Sans',sans-serif;font-size:11.11px;font-weight:bold" fill="#ff0000" text-anchor="middle">35F</text>
<path d="M188.5 49.5 L188.5 665.5 M826.5 49.5 L826.5 665.5 M188 49.5 L827 49.5 M188 665.5 L827 665.5 M183.6 49.5 L188.5 49.5 M826.5 49.5 L831.4 49.5 M183.6 155.5 L188.5 155.5 M826.5 155.5 L831.4 155.5 M183.6 230.5 L188.5 230.5 M826.5 230.5 L831.4 230.5 M183.6 289.5 L188.5 289.5 M826.5 289.5 L831.4 289.5 M183.6 336.5 L188.5 336.5 M826.5 336.5 L831.4 336.5 M183.6 377.5 L188.5 377.5 M826.5 377.5 L831.4 377.5 M183.6 412.5 L188.5 412.5 M826.5 412.5 L831.4 412.5 M183.6 443.5 L188.5 443.5 M826.5 443.5 L831.4 443.5 M183.6 470.5 L188.5 470.5 M826.5 470.5 L831.4 470.5 M183.6 495.5 L188.5 495.5 M826.5 495.5 L831.4 495.5 M183.6 518.5 L188.5 518.5 M826.5 518.5 L831.4 518.5 M183.6 539.5 L188.5 539.5 M826.5 539.5 L831.4 539.5 M183.6 558.5 L188.5 558.5 M826.5 558.5 L831.4 558.5 M183.6 576.5 L188.5 576.5 M826.5 576.5 L831.4 576.5 M183.6 593.5 L188.5 593.5 M826.5 593.5 L831.4 593.5 M183.6 609.5 L188.5 609.5 M826.5 609.5 L831.4 609.5 M183.6 624.5 L188.5 624.5 M826.5 624.5 L831.4 624.5 M183.6 638.5 L188.5 638.5 M826.5 638.5 L831.4 638.5 M183.6 652.5 L188.5 652.5 M826.5 652.5 L831.4 652.5 M183.6 665.5 L188.5 665.5 M826.5 665.5 L831.4 665.5 M188.5 665.5 L188.5 670.4 M188.5 49.5 L188.5 44.6 M259.5 665.5 L259.5 670.4 M259.5 49.5 L259.5 44.6 M330.5 665.5 L330.5 670.4 M330.5 49.5 L330.5 44.6 M401.5 665.5 L401.5 670.4 M401.5 49.5 L401.5 44.6 M472.5 665.5 L472.5 670.4 M472.5 49.5 L472.5 44.6 M542.5 665.5 L542.5 670.4 M542.5 49.5 L542.5 44.6 M613.5 665.5 L613.5 670.4 M613.5 49.5 L613.5 44.6 M684.5 665.5 L684.5 670.4 M684.5 49.5 L684.5 44.6 M755.5 665.5 L755.5 670.4 M755.5 49.5 L755.5 44.6 M826.5 665.5 L826.5 670.4 M826.5 49.5 L826.5 44.6" fill="none" stroke="#000" stroke-width="1.1"/>
<text x="177.6" y="54.05" style="font-family:'DejaVu Sans',sans-serif;font-size:13.89px" text-anchor="end">100</text>
<text x="177.6" y="235.05" style="font-family:'DejaVu Sans',sans-serif;font-size:13.89px" text-anchor="end">200</text>
<text x="177.6" y="341.05" style="font-family:'DejaVu Sans',sans-serif;font-size:13.89px" text-anchor="end">300</text>
<text x="177.6" y="417.05" style="font-family:'DejaVu Sans',sans-serif;font-size:13.89px" text-anchor="end">400</text>
<text x="177.6" y="475.05" style="font-family:'DejaVu Sans',sans-serif;font-size:13.89px" text-anchor="end">500</text>
<text x="177.6" y="523.05" style="font-family:'DejaVu Sans',sans-serif;font-size:13.89px" text-anchor="end">600</text>
<text x="177.6" y="563.05" style="font-family:'DejaVu Sans',sans-serif;font-size:13.89px" text-anchor="end">700</text>
<text x="177.6" y="598.05" style="font-family:'DejaVu Sans',sans-serif;font-size:13.89px" text-anchor="end">800</text>
<text x="177.6" y="629.05" style="font-family:'DejaVu Sans',sans-serif;font-size:13.89px" text-anchor="end">900</text>
<text x="177.6" y="657.05" style="font-family:'DejaVu Sans',sans-serif;font-size:13.89px" text-anchor="end">1000</text>
<text x="188.5" y="684.8" style="font-family:'DejaVu Sans',sans-serif;font-size:13.89px" text-anchor="middle">−40</text>
<text x="259.39" y="684.8" style="font-family:'DejaVu Sans',sans-serif;font-size:13.89px" text-anchor="middle">−30</text>
<text x="330.28" y="684.8" style="font-family:'DejaVu Sans',sans-serif;font-size:13.89px" text-anchor="middle">−20</text>
<text x="401.17" y="684.8" style="font-family:'DejaVu Sans',sans-serif;font-size:13.89px" text-anchor="middle">−10</text>
<text x="472.06" y="684.8" style="font-family:'DejaVu Sans',sans-serif;font-size:13.89px" text-anchor="middle">0</text>
<text x="542.94" y="684.8" style="font-family:'DejaVu Sans',sans-serif;font-size:13.89px" text-anchor="middle">10</text>
<text x="613.83" y="684.8" style="font-family:'DejaVu Sans',sans-serif;font-size:13.89px" text-anchor="middle">20</text>
<text x="684.72" y="684.8" style="font-family:'DejaVu Sans',sans-serif;font-size:13.89px" text-anchor="middle">30</text>
<text x="755.61" y="684.8" style="font-family:'DejaVu Sans',sans-serif;font-size:13.89px" text-anchor="middle">40</text>
<text x="826.5" y="684.8" style="font-family:'DejaVu Sans',sans-serif;font-size:13.89px" text-anchor="middle">50</text>
<text x="507.5" y="706" style="font-family:'DejaVu Sans',sans-serif;font-size:16.67px" text-anchor="middle">Temperature (°C)</text>
<text transform="translate(134.3 357.1) rotate(-90)" x="0" y="0" style="font-family:'DejaVu Sans',sans-serif;font-size:16.67px" text-anchor="middle">Pressure (hPa)</text>
<text x="506.6" y="39.8" style="font-family:'DejaVu Sans',sans-serif;font-size:13.89px;font-weight:bold" text-anchor="middle">HRRR Sounding at KDKB Init: 16z Feb 11 [F001] valid 17z Feb 11 2026</text>
<text x="986.6" y="35.8" style="font-family:'DejaVu Sans',sans-serif;font-size:15.3px;font-weight:bold" fill="#808080" text-anchor="middle" textLength="193.5" lengthAdjust="spacingAndGlyphs">TROPICALTIDBITS.COM</text>
<path d="M858.44 53.67 L835.96 42.73 L843.14 35.11 L841.58 45.47 Z M859.62 108.72 L834.98 104.48 L839.76 95.15 L841.14 105.54 L844.22 106.07 L842.84 95.68 L844.22 106.07 Z M859.42 157.78 L835.18 151.62 L840.68 142.7 L841.24 153.16 L844.27 153.93 L843.71 143.47 L844.27 153.93 L847.3 154.7 L847.02 149.47 L847.3 154.7 Z M858.94 199.71 L835.86 190.09 L842.6 182.06 L841.63 192.49 L844.52 193.7 L845.48 183.26 L844.52 193.7 L847.4 194.9 L848.37 184.47 L847.4 194.9 L850.28 196.1 L850.77 190.89 L850.28 196.1 Z M858.5 235.35 L836.1 224.25 L843.34 216.68 L841.7 227.02 L844.5 228.41 L846.14 218.06 L844.5 228.41 L847.3 229.8 L848.94 219.45 L847.3 229.8 L850.1 231.19 L851.74 220.84 L850.1 231.19 L852.9 232.58 L854.54 222.23 L852.9 232.58 Z M858.78 264.69 L835.22 256.31 L841.52 247.94 L841.11 258.4 L842.58 258.93 L848.88 250.55 L848.47 261.02 L851.42 262.07 L851.83 251.6 L851.42 262.07 L854.36 263.12 L854.56 257.89 L854.36 263.12 Z M858.9 292.63 L835.3 284.37 L841.56 275.96 L841.2 286.43 L842.68 286.95 L848.93 278.55 L848.57 289.02 L851.52 290.05 L851.7 284.81 L851.52 290.05 Z M858.5 318.85 L836.1 307.75 L843.34 300.18 L841.7 310.53 L843.1 311.22 L850.34 303.65 L848.7 313.99 L851.5 315.38 L853.14 305.03 L851.5 315.38 Z M858.46 341.53 L835.94 330.67 L843.1 323.02 L841.57 333.39 L842.98 334.06 L850.14 326.41 L848.61 336.78 L851.42 338.14 L852.95 327.77 L851.42 338.14 L854.24 339.49 L855 334.31 L854.24 339.49 Z M858.56 362.53 L835.84 352.07 L842.86 344.3 L841.52 354.69 L842.94 355.34 L849.96 347.56 L848.62 357.95 L851.46 359.26 L852.8 348.87 L851.46 359.26 L854.3 360.57 L854.97 355.37 L854.3 360.57 Z M858.5 381.65 L835.9 370.95 L843 363.25 L841.55 373.63 L842.96 374.29 L850.07 366.59 L848.61 376.97 L851.44 378.31 L852.89 367.93 L851.44 378.31 Z M858.42 400.11 L835.98 389.09 L843.19 381.49 L841.59 391.85 L842.99 392.53 L850.21 384.94 L848.6 395.29 L851.41 396.67 L853.01 386.31 L851.41 396.67 Z M858.38 417.49 L836.22 405.91 L843.62 398.5 L841.76 408.81 L843.15 409.53 L850.55 402.11 L848.68 412.42 L851.45 413.87 L852.39 408.72 L851.45 413.87 Z M857.75 448.65 L836.45 435.55 L844.36 428.67 L841.78 438.82 L844.44 440.46 L847.02 430.31 L844.44 440.46 L847.1 442.1 L849.68 431.95 L847.1 442.1 L849.76 443.74 L852.34 433.58 L849.76 443.74 L852.42 445.38 L855 435.22 L852.42 445.38 L855.08 447.01 L856.37 441.94 L855.08 447.01 Z M857.13 477.5 L837.27 462.3 L845.83 456.26 L842.24 466.1 L844.72 468 L848.31 458.16 L844.72 468 L847.2 469.9 L850.8 460.06 L847.2 469.9 L849.68 471.8 L853.28 461.96 L849.68 471.8 L852.16 473.7 L853.96 468.78 L852.16 473.7 Z M857.15 502.76 L837.25 487.64 L845.79 481.57 L842.22 491.42 L844.71 493.31 L848.27 483.46 L844.71 493.31 Z M857.52 524.45 L836.48 510.95 L839.25 500.85 L836.48 510.95 L839.11 512.64 L841.88 502.53 L839.11 512.64 L841.74 514.33 L844.51 504.22 L841.74 514.33 L844.37 516.01 L847.14 505.91 L844.37 516.01 L847 517.7 L848.38 512.65 L847 517.7 Z M857.43 545.49 L836.57 531.71 L839.47 521.64 L836.57 531.71 L839.18 533.43 L842.08 523.37 L839.18 533.43 L841.78 535.16 L844.69 525.09 L841.78 535.16 L844.39 536.88 L847.3 526.81 L844.39 536.88 Z M856.96 566.47 L838.04 550.13 L842.21 540.52 L838.04 550.13 L840.4 552.17 L844.57 542.56 L840.4 552.17 L842.77 554.22 L846.94 544.6 L842.77 554.22 L845.13 556.26 L849.3 546.65 L845.13 556.26 Z M855.54 585.53 L838.46 567.27 L843.64 558.16 L838.46 567.27 L840.6 569.55 L845.77 560.44 L840.6 569.55 L842.73 571.83 L847.9 562.72 L842.73 571.83 L844.87 574.12 L850.04 565.01 L844.87 574.12 Z M854.86 602.8 L839.34 583.2 L845.24 574.54 L839.34 583.2 L841.28 585.65 L847.18 576.99 L841.28 585.65 L843.22 588.1 L849.12 579.44 L843.22 588.1 L845.16 590.55 L851.06 581.89 L845.16 590.55 Z M853.32 619.6 L841.08 597.8 L848.26 590.18 L841.08 597.8 L842.61 600.53 L849.79 592.9 L842.61 600.53 L844.14 603.25 L851.33 595.63 L844.14 603.25 L845.67 605.98 L852.86 598.35 L845.67 605.98 Z M853.85 641.78 L840.55 620.62 L847.35 612.65 L840.55 620.62 L842.21 623.26 L849.01 615.3 L842.21 623.26 Z M855.53 659.4 L839.27 640.4 L844.84 631.53 L839.27 640.4 Z" fill="#000" stroke="#000" stroke-width="1.1" stroke-linejoin="round"/>
<g clip-path="url(#comega)">
<rect x="38" y="45" width="2" height="7" fill="#efe41a" shape-rendering="crispEdges"/>
<rect x="37" y="103" width="1" height="7" fill="#808080" shape-rendering="crispEdges"/>
<rect x="34" y="151" width="4" height="7" fill="#808080" shape-rendering="crispEdges"/>
<rect x="34" y="191" width="4" height="7" fill="#808080" shape-rendering="crispEdges"/>
<rect x="36" y="226" width="2" height="7" fill="#808080" shape-rendering="crispEdges"/>
<rect x="33" y="257" width="5" height="7" fill="#808080" shape-rendering="crispEdges"/>
<rect x="33" y="285" width="5" height="7" fill="#808080" shape-rendering="crispEdges"/>
<rect x="34" y="310" width="4" height="7" fill="#808080" shape-rendering="crispEdges"/>
<rect x="28" y="333" width="10" height="7" fill="#808080" shape-rendering="crispEdges"/>
<rect x="26" y="354" width="12" height="7" fill="#808080" shape-rendering="crispEdges"/>
<rect x="29" y="373" width="9" height="7" fill="#808080" shape-rendering="crispEdges"/>
<rect x="34" y="391" width="4" height="7" fill="#808080" shape-rendering="crispEdges"/>
<rect x="38" y="424" width="2" height="7" fill="#efe41a" shape-rendering="crispEdges"/>
<rect x="38" y="439" width="3" height="7" fill="#efe41a" shape-rendering="crispEdges"/>
<rect x="38" y="453" width="3" height="7" fill="#efe41a" shape-rendering="crispEdges"/>
<rect x="38" y="466" width="2" height="7" fill="#efe41a" shape-rendering="crispEdges"/>
<rect x="38" y="479" width="3" height="7" fill="#efe41a" shape-rendering="crispEdges"/>
<rect x="38" y="491" width="3" height="7" fill="#efe41a" shape-rendering="crispEdges"/>
<rect x="38" y="503" width="5" height="7" fill="#f5d61c" shape-rendering="crispEdges"/>
<rect x="38" y="514" width="6" height="7" fill="#f5d61c" shape-rendering="crispEdges"/>
<rect x="38" y="525" width="6" height="7" fill="#f5d61c" shape-rendering="crispEdges"/>
<rect x="38" y="535" width="4" height="7" fill="#f5d61c" shape-rendering="crispEdges"/>
<rect x="38" y="545" width="3" height="7" fill="#f5d61c" shape-rendering="crispEdges"/>
<rect x="38" y="555" width="2" height="7" fill="#efe41a" shape-rendering="crispEdges"/>
<rect x="38" y="564" width="2" height="7" fill="#efe41a" shape-rendering="crispEdges"/>
<rect x="38" y="573" width="2" height="7" fill="#efe41a" shape-rendering="crispEdges"/>
<rect x="38" y="581" width="1" height="7" fill="#efe41a" shape-rendering="crispEdges"/>
<rect x="37" y="598" width="1" height="7" fill="#808080" shape-rendering="crispEdges"/>
<rect x="38" y="613" width="2" height="7" fill="#efe41a" shape-rendering="crispEdges"/>
<rect x="38" y="620" width="4" height="7" fill="#f5d61c" shape-rendering="crispEdges"/>
<rect x="38" y="628" width="5" height="7" fill="#f5d61c" shape-rendering="crispEdges"/>
<rect x="38" y="635" width="3" height="7" fill="#efe41a" shape-rendering="crispEdges"/>
</g>
<line x1="23.4" y1="522.5" x2="100.4" y2="522.5" stroke="#ff0000" stroke-width="2.1" stroke-dasharray="7.7 3.5"/>
<line x1="23.4" y1="550.5" x2="100.4" y2="550.5" stroke="#ff0000" stroke-width="2.1" stroke-dasharray="7.7 3.5"/>
<text x="100" y="517.8" style="font-family:'DejaVu Sans',sans-serif;font-size:11.11px;font-weight:bold" fill="#ff0000" text-anchor="end">DGZ</text>
<text x="100" y="563.1" style="font-family:'DejaVu Sans',sans-serif;font-size:11.11px;font-weight:bold" fill="#ff0000" text-anchor="end">DGZ</text>
<path d="M38.5 665.5 L38.5 670.4 M69.5 665.5 L69.5 670.4 M100.5 665.5 L100.5 670.4" stroke="#000" stroke-width="1.1"/>
<text x="39" y="681.7" style="font-family:'DejaVu Sans',sans-serif;font-size:10.4px" text-anchor="middle">0</text>
<text x="69.8" y="681.7" style="font-family:'DejaVu Sans',sans-serif;font-size:10.4px" text-anchor="middle">−1</text>
<text x="100.8" y="681.7" style="font-family:'DejaVu Sans',sans-serif;font-size:10.4px" text-anchor="middle">−2</text>
<text x="69.8" y="702.6" style="font-family:'DejaVu Sans',sans-serif;font-size:13.89px" text-anchor="middle">Omega (Pa/s)</text>
<rect x="42.4" y="63.5" width="127.9" height="96.9" rx="2.5" ry="2.5" fill="#fff" fill-opacity="0.8" stroke="#cccccc" stroke-width="1.1"/>
<line x1="47.2" y1="72.5" x2="69.9" y2="72.5" stroke="#4f9a4f" stroke-width="1.05" stroke-dasharray="1.05 1.73"/>
<text x="77.7" y="75.6" style="font-family:'DejaVu Sans',sans-serif;font-size:11.11px">Sat. Mix. Ratio</text>
<line x1="47.7" y1="87.5" x2="69.3" y2="87.5" stroke="#dea2a2" stroke-width="1" stroke-linecap="square"/>
<text x="77.7" y="91.18" style="font-family:'DejaVu Sans',sans-serif;font-size:11.11px">Dry Adiabats</text>
<line x1="47.7" y1="103.5" x2="69.3" y2="103.5" stroke="#a6a6dc" stroke-width="1" stroke-linecap="square"/>
<text x="77.7" y="106.76" style="font-family:'DejaVu Sans',sans-serif;font-size:11.11px">Pseudoadiabats</text>
<line x1="47.7" y1="119.5" x2="69.3" y2="119.5" stroke="#0000ff" stroke-width="1.4" stroke-linecap="square"/>
<text x="77.7" y="122.34" style="font-family:'DejaVu Sans',sans-serif;font-size:11.11px">Wetbulb</text>
<line x1="47.7" y1="134.5" x2="69.3" y2="134.5" stroke="#009900" stroke-width="3.25" stroke-linecap="square"/>
<text x="77.7" y="137.92" style="font-family:'DejaVu Sans',sans-serif;font-size:11.11px">Dewpoint</text>
<line x1="47.7" y1="150.5" x2="69.3" y2="150.5" stroke="#ff0000" stroke-width="3.25" stroke-linecap="square"/>
<text x="77.7" y="153.5" style="font-family:'DejaVu Sans',sans-serif;font-size:11.11px">Temperature</text>
<g clip-path="url(#chodo)">
<ellipse cx="894.2" cy="107.5" rx="36" ry="31.23" fill="none" stroke="#b4b4b4" stroke-width="0.9" stroke-dasharray="0.9 1.7"/>
<ellipse cx="894.2" cy="107.5" rx="72" ry="62.47" fill="none" stroke="#b4b4b4" stroke-width="0.9" stroke-dasharray="0.9 1.7"/>
<ellipse cx="894.2" cy="107.5" rx="108" ry="93.7" fill="none" stroke="#b4b4b4" stroke-width="0.9" stroke-dasharray="0.9 1.7"/>
<ellipse cx="894.2" cy="107.5" rx="144" ry="124.94" fill="none" stroke="#b4b4b4" stroke-width="0.9" stroke-dasharray="0.9 1.7"/>
<ellipse cx="894.2" cy="107.5" rx="180" ry="156.17" fill="none" stroke="#b4b4b4" stroke-width="0.9" stroke-dasharray="0.9 1.7"/>
<ellipse cx="894.2" cy="107.5" rx="216" ry="187.4" fill="none" stroke="#b4b4b4" stroke-width="0.9" stroke-dasharray="0.9 1.7"/>
<ellipse cx="894.2" cy="107.5" rx="252" ry="218.64" fill="none" stroke="#b4b4b4" stroke-width="0.9" stroke-dasharray="0.9 1.7"/>
<ellipse cx="894.2" cy="107.5" rx="288" ry="249.87" fill="none" stroke="#b4b4b4" stroke-width="0.9" stroke-dasharray="0.9 1.7"/>
<ellipse cx="894.2" cy="107.5" rx="324" ry="281.11" fill="none" stroke="#b4b4b4" stroke-width="0.9" stroke-dasharray="0.9 1.7"/>
<ellipse cx="894.2" cy="107.5" rx="360" ry="312.34" fill="none" stroke="#b4b4b4" stroke-width="0.9" stroke-dasharray="0.9 1.7"/>
<path d="M894.5 49.5 L894.5 237.5 M876.5 108.5 L1096.5 108.5" stroke="#333" stroke-width="1"/>
<path d="M904.4 118.6 L908.1 122.2 L910.4 126.8 L914.2 136.2 L920.3 151.2 L923.5 158.5 L926.8 161 L930.5 161 L935.7 157.2 L939.2 153.5 L943.2 151.2 L948.3 149.8 L952 146.5 L956.3 141.8" fill="none" stroke="#ff0000" stroke-width="1.9" stroke-linejoin="round" stroke-linecap="square"/>
<path d="M956.3 141.8 L959.5 143.7 L963.2 149.1 L967.2 154.4 L975.6 161.9 L986.2 172.5 L999.4 176.4 L1010.8 179.1 L1020.5 181.3 L1034.2 182.6 L1039.1 182.6" fill="none" stroke="#008000" stroke-width="1.9" stroke-linejoin="round" stroke-linecap="square"/>
<path d="M1039.1 182.6 L1043.3 183 L1057.8 181.5 L1069.5 179.6 L1076.9 179.6 L1086.5 180.2 L1085.6 181.5 L1083.7 186.7" fill="none" stroke="#bf00bf" stroke-width="1.9" stroke-linejoin="round" stroke-linecap="square"/>
<path d="M1079.4 184.3 L1075.4 185.5 L1070.4 183.6 L1072.6 173.5 L1075.4 161.7 L1089.6 166.4 L1089.6 167 L1040.5 169.1" fill="none" stroke="#0000ff" stroke-width="1.9" stroke-linejoin="round" stroke-linecap="square"/>
</g>
<ellipse cx="930.4" cy="169.9" rx="9" ry="7.81" fill="none" stroke="#000" stroke-width="1.4"/>
<text x="930.4" y="173.3" style="font-family:'DejaVu Sans',sans-serif;font-size:9.5px" text-anchor="middle" textLength="10.4" lengthAdjust="spacingAndGlyphs">RM</text>
<ellipse cx="956.2" cy="130" rx="9" ry="7.81" fill="none" stroke="#000" stroke-width="1.4"/>
<text x="956.2" y="133.4" style="font-family:'DejaVu Sans',sans-serif;font-size:9.5px" text-anchor="middle" textLength="10.4" lengthAdjust="spacingAndGlyphs">LM</text>
<text x="922.6" y="159.85" style="font-family:'DejaVu Sans',sans-serif;font-size:11.11px;paint-order:stroke" stroke="#fff" stroke-width="2.6" stroke-linejoin="round" text-anchor="middle">1</text>
<text x="939.2" y="155.65" style="font-family:'DejaVu Sans',sans-serif;font-size:11.11px;paint-order:stroke" stroke="#fff" stroke-width="2.6" stroke-linejoin="round" text-anchor="middle">2</text>
<text x="951.9" y="149.15" style="font-family:'DejaVu Sans',sans-serif;font-size:11.11px;paint-order:stroke" stroke="#fff" stroke-width="2.6" stroke-linejoin="round" text-anchor="middle">3</text>
<text x="1039.1" y="186.65" style="font-family:'DejaVu Sans',sans-serif;font-size:11.11px;paint-order:stroke" stroke="#fff" stroke-width="2.6" stroke-linejoin="round" text-anchor="middle">6</text>
<text x="1079.4" y="188.35" style="font-family:'DejaVu Sans',sans-serif;font-size:11.11px;paint-order:stroke" stroke="#fff" stroke-width="2.6" stroke-linejoin="round" text-anchor="middle">9</text>
<text x="930.7" y="125.2" style="font-family:'DejaVu Sans',sans-serif;font-size:11.11px" fill="#808080" text-anchor="middle">20</text>
<text x="966.7" y="125.2" style="font-family:'DejaVu Sans',sans-serif;font-size:11.11px" fill="#808080" text-anchor="middle">40</text>
<text x="1002.7" y="125.2" style="font-family:'DejaVu Sans',sans-serif;font-size:11.11px" fill="#808080" text-anchor="middle">60</text>
<text x="1038.7" y="125.2" style="font-family:'DejaVu Sans',sans-serif;font-size:11.11px" fill="#808080" text-anchor="middle">80</text>
<text x="1074.7" y="125.2" style="font-family:'DejaVu Sans',sans-serif;font-size:11.11px" fill="#808080" text-anchor="middle">100</text>
<rect x="876.5" y="49.5" width="220" height="188" fill="none" stroke="#000" stroke-width="1.1"/>
<text x="985.7" y="250.6" style="font-family:'DejaVu Sans',sans-serif;font-size:11.11px" text-anchor="middle">Hodograph (wind in kt, height in km)</text>
<text x="876.6" y="285.7" style="font-family:'DejaVu Sans Mono',monospace;font-size:13.89px;white-space:pre" xml:space="preserve">SRH 0-1km:        2 <tspan style="font-family:'DejaVu Sans',sans-serif;font-style:italic">m</tspan><tspan style="font-family:'DejaVu Sans',sans-serif;font-size:9.72px" dx="0.4" dy="-5.8">2</tspan><tspan style="font-family:'DejaVu Sans',sans-serif;font-style:italic" dx="0.8" dy="5.8">s</tspan><tspan style="font-family:'DejaVu Sans',sans-serif;font-size:9.72px" dx="0.9" dy="-5.8">−2</tspan></text>
<text x="876.6" y="302.8" style="font-family:'DejaVu Sans Mono',monospace;font-size:13.89px;white-space:pre" xml:space="preserve">SRH 0-3km:       26 <tspan style="font-family:'DejaVu Sans',sans-serif;font-style:italic">m</tspan><tspan style="font-family:'DejaVu Sans',sans-serif;font-size:9.72px" dx="0.4" dy="-5.8">2</tspan><tspan style="font-family:'DejaVu Sans',sans-serif;font-style:italic" dx="0.8" dy="5.8">s</tspan><tspan style="font-family:'DejaVu Sans',sans-serif;font-size:9.72px" dx="0.9" dy="-5.8">−2</tspan></text>
<text x="875.8" y="322" style="font-family:'DejaVu Sans Mono',monospace;font-size:13.89px;white-space:pre" fill="#000" xml:space="preserve">SBCAPE:           0 J/kg</text>
<text x="875.8" y="339.45" style="font-family:'DejaVu Sans Mono',monospace;font-size:13.89px;white-space:pre" fill="#000" xml:space="preserve">MLCAPE:           0 J/kg</text>
<text x="875.8" y="356.9" style="font-family:'DejaVu Sans Mono',monospace;font-size:13.89px;white-space:pre" fill="#000" xml:space="preserve">MUCAPE:           0 J/kg</text>
<text x="875.8" y="374.35" style="font-family:'DejaVu Sans Mono',monospace;font-size:13.89px;white-space:pre" fill="#000" xml:space="preserve">SBCIN:            0 J/kg</text>
<text x="875.8" y="391.8" style="font-family:'DejaVu Sans Mono',monospace;font-size:13.89px;white-space:pre" fill="#000" xml:space="preserve">MLCIN:            0 J/kg</text>
<text x="875.8" y="409.25" style="font-family:'DejaVu Sans Mono',monospace;font-size:13.89px;white-space:pre" fill="#3030cc" xml:space="preserve">DCAPE:           21 J/kg</text>
<text x="875.8" y="426.7" style="font-family:'DejaVu Sans Mono',monospace;font-size:13.89px;white-space:pre" fill="#a52a2a" xml:space="preserve">SHR 200-850mb:   61 kt</text>
<text x="875.8" y="444.15" style="font-family:'DejaVu Sans Mono',monospace;font-size:13.89px;white-space:pre" fill="#8b5a0b" xml:space="preserve">RH 300-850mb:    17 %</text>
<text x="875.8" y="461.6" style="font-family:'DejaVu Sans Mono',monospace;font-size:13.89px;white-space:pre" fill="#000" xml:space="preserve">PWAT:          0.19 in</text>
<g clip-path="url(#cthe)">
<path d="M1081.6 496 L1081.4 504.1 L1079.8 508.9 L1075.6 514.8 L1069.1 520.1 L1059.5 526 L1046.7 532.4 L1034.9 536.7 L1025.3 541.5 L1012.5 549.5 L1000.7 559.2 L996.7 565 L992.3 571.4 L985.9 582.8 L979.5 596.8 L975.7 603.1 L968.1 610.1 L962.4 615.8 L959.9 620.3 L959.2 625.3 L952.2 630.4 L942.7 636.1 L941.2 638.7 L940.8 643.8 L942.1 647.6 L951 652.4" fill="none" stroke="#3399bb" stroke-width="2.6" stroke-linejoin="round" stroke-linecap="square"/>
</g>
<path d="M892.5 522.5 L897.4 522.5 M892.5 566.5 L897.4 566.5 M892.5 610.5 L897.4 610.5 M892.5 654.5 L897.4 654.5 M934.5 665.5 L934.5 660.6 M976.5 665.5 L976.5 660.6 M1018.5 665.5 L1018.5 660.6 M1060.5 665.5 L1060.5 660.6" stroke="#000" stroke-width="1.1"/>
<rect x="892.5" y="500.5" width="204" height="165" fill="none" stroke="#000" stroke-width="1.1"/>
<text x="901.9" y="526.2" style="font-family:'DejaVu Sans',sans-serif;font-size:11.11px">400</text>
<text x="901.9" y="570.2" style="font-family:'DejaVu Sans',sans-serif;font-size:11.11px">600</text>
<text x="901.9" y="614.2" style="font-family:'DejaVu Sans',sans-serif;font-size:11.11px">800</text>
<text x="934.2" y="655.9" style="font-family:'DejaVu Sans',sans-serif;font-size:11.11px" text-anchor="middle">280</text>
<text x="976.16" y="655.9" style="font-family:'DejaVu Sans',sans-serif;font-size:11.11px" text-anchor="middle">290</text>
<text x="1018.12" y="655.9" style="font-family:'DejaVu Sans',sans-serif;font-size:11.11px" text-anchor="middle">300</text>
<text x="1060.08" y="655.9" style="font-family:'DejaVu Sans',sans-serif;font-size:11.11px" text-anchor="middle">310</text>
<text x="994.5" y="677.7" style="font-family:'DejaVu Sans',sans-serif;font-size:11.11px" text-anchor="middle">Equivalent Pot. Temperature (K)</text>
<text transform="translate(884.3 583) rotate(-90)" style="font-family:'DejaVu Sans',sans-serif;font-size:11.11px" text-anchor="middle">Pressure (hPa)</text>
<rect x="0" y="0" width="1133" height="1" fill="#a0a0a0"/>
<rect x="0" y="0" width="1" height="747" fill="#a0a0a0"/>
<rect x="1" y="1" width="1131" height="1" fill="#696969"/>
<rect x="1" y="1" width="1" height="745" fill="#696969"/>
<rect x="1132" y="1" width="1" height="746" fill="#e3e3e3"/>
<rect x="1" y="746" width="1132" height="1" fill="#e3e3e3"/>
</svg>
</body></html>
